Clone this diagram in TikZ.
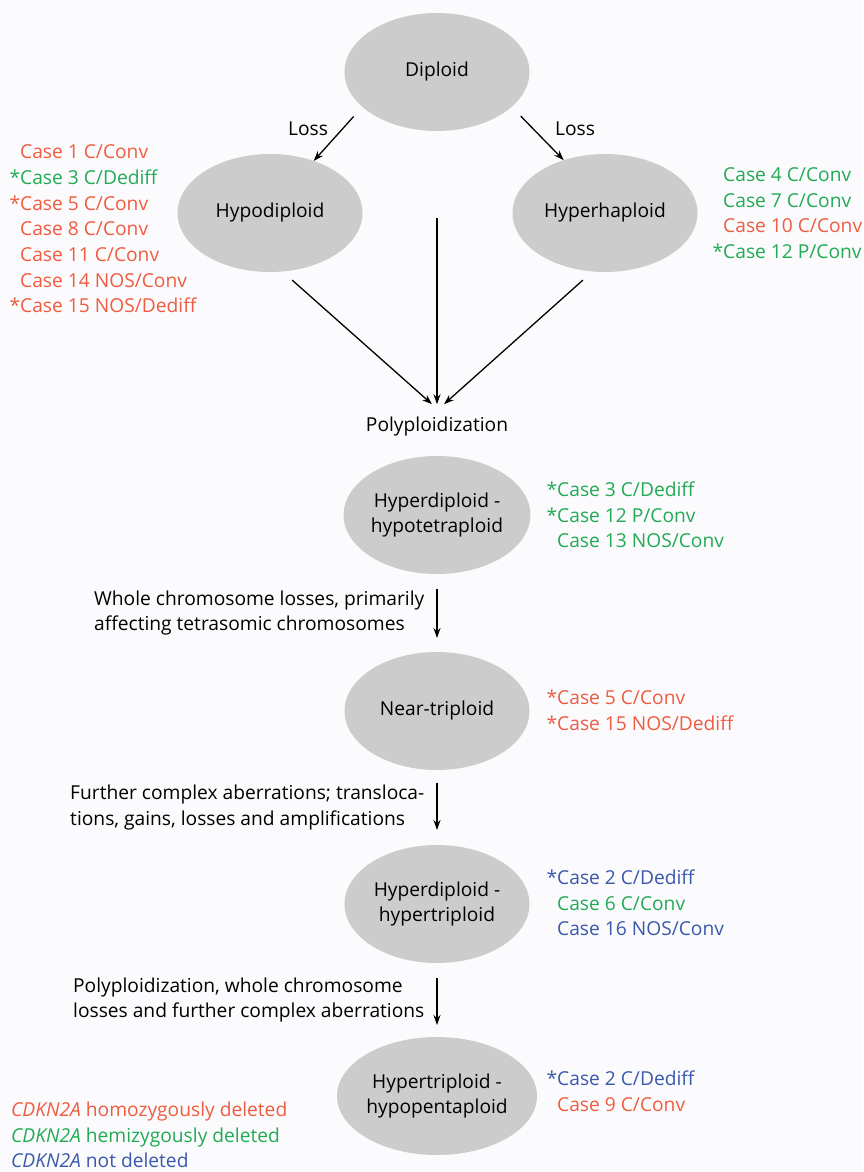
\documentclass[tikz,border=0pt]{standalone}
\usepackage{fontspec}
\setmainfont{Open Sans}
\usetikzlibrary{shapes.geometric,arrows.meta}
\definecolor{casered}{RGB}{239,92,64}
\definecolor{casegreen}{RGB}{35,170,85}
\definecolor{caseblue}{RGB}{58,88,172}
\definecolor{ploidy}{RGB}{204,204,204}
\definecolor{paper}{RGB}{251,251,253}

\begin{document}
\begin{tikzpicture}[x=1pt, y=-1pt,
    font=\fontsize{19.2}{25.7}\selectfont,
    stage/.style={ellipse, fill=ploidy, minimum width=185pt, minimum height=118pt, inner sep=0pt, outer sep=0pt, align=center},
    cases/.style={anchor=west, align=left, inner sep=0pt},
    arr/.style={-{Stealth[length=10pt, width=7pt]}, line width=1.3pt},
    note/.style={align=left, inner sep=0pt}]
  \fill[paper] (0,0) rectangle (863,1172);
  \useasboundingbox (0,0) rectangle (863,1172);
  % ploidy stages
  \node[stage] (dip) at (437,72) {Diploid};
  \node[stage] (hypo) at (270,213) {Hypodiploid};
  \node[stage] (hyper) at (605,213) {Hyperhaploid};
  \node[inner xsep=0pt, inner ysep=13pt] (poly) at (437,427) {Polyploidization};
  \node[stage] (hdht) at (437,515) {Hyperdiploid -\\hypotetraploid};
  \node[stage] (near) at (437,711) {Near-triploid};
  \node[stage] (hdhtri) at (437,904) {Hyperdiploid -\\hypertriploid};
  \node[stage] (hypent) at (437,1096) {Hypertriploid -\\hypopentaploid};
  \node (lossl) at (308,129) {Loss};
  \node (lossr) at (575,129) {Loss};
  % arrows
  \draw[arr, shorten <=13pt] (dip.205) -- (hypo.50);
  \draw[arr, shorten <=13pt] (dip.335) -- (hyper.128);
  \draw[arr, shorten <=13pt] (hypo.282) -- ([xshift=-5pt]poly.north);
  \draw[arr, shorten <=87pt] (dip.south) -- (poly.north);
  \draw[arr, shorten <=13pt] (hyper.258) -- ([xshift=7pt]poly.north);
  \draw[arr, shorten <=15pt, shorten >=14pt] (hdht) -- (near)
    node[midway, left=12pt, note] {Whole chromosome losses, primarily\\affecting tetrasomic chromosomes};
  \draw[arr, shorten <=13pt, shorten >=15pt] (near) -- (hdhtri)
    node[midway, left=12pt, note] {Further complex aberrations; transloca-\\tions, gains, losses and amplifications};
  \draw[arr, shorten <=15pt, shorten >=12pt] (hdhtri) -- (hypent)
    node[midway, left=12pt, note] {Polyploidization, whole chromosome\\losses and further complex aberrations};
  % cases
  \node[cases] (hypocases) at (20,229) {\textcolor{casered}{Case 1 C/Conv}\\
    \textcolor{casegreen}{\llap{*}Case 3 C/Dediff}\\
    \textcolor{casered}{\llap{*}Case 5 C/Conv}\\
    \textcolor{casered}{Case 8 C/Conv}\\
    \textcolor{casered}{Case 11 C/Conv}\\
    \textcolor{casered}{Case 14 NOS/Conv}\\
    \textcolor{casered}{\llap{*}Case 15 NOS/Dediff}};
  \node[cases] (hypercases) at (723,213) {\textcolor{casegreen}{Case 4 C/Conv}\\
    \textcolor{casegreen}{Case 7 C/Conv}\\
    \textcolor{casered}{Case 10 C/Conv}\\
    \textcolor{casegreen}{\llap{*}Case 12 P/Conv}};
  \node[cases] (hdhtcases) at (557,515) {\textcolor{casegreen}{\llap{*}Case 3 C/Dediff}\\
    \textcolor{casegreen}{\llap{*}Case 12 P/Conv}\\
    \textcolor{casegreen}{Case 13 NOS/Conv}};
  \node[cases] (nearcases) at (557,710) {\textcolor{casered}{\llap{*}Case 5 C/Conv}\\
    \textcolor{casered}{\llap{*}Case 15 NOS/Dediff}};
  \node[cases] (hdhtricases) at (557,903) {\textcolor{caseblue}{\llap{*}Case 2 C/Dediff}\\
    \textcolor{casegreen}{Case 6 C/Conv}\\
    \textcolor{caseblue}{Case 16 NOS/Conv}};
  \node[cases] (hypentcases) at (557,1091) {\textcolor{caseblue}{\llap{*}Case 2 C/Dediff}\\
    \textcolor{casered}{Case 9 C/Conv}};
  % legend
  \node[cases] (legend) at (11,1135) {\textcolor{casered}{\textit{CDKN2A} homozygously deleted}\\
    \textcolor{casegreen}{\textit{CDKN2A} hemizygously deleted}\\
    \textcolor{caseblue}{\textit{CDKN2A} not deleted}};
\end{tikzpicture}
\end{document}
